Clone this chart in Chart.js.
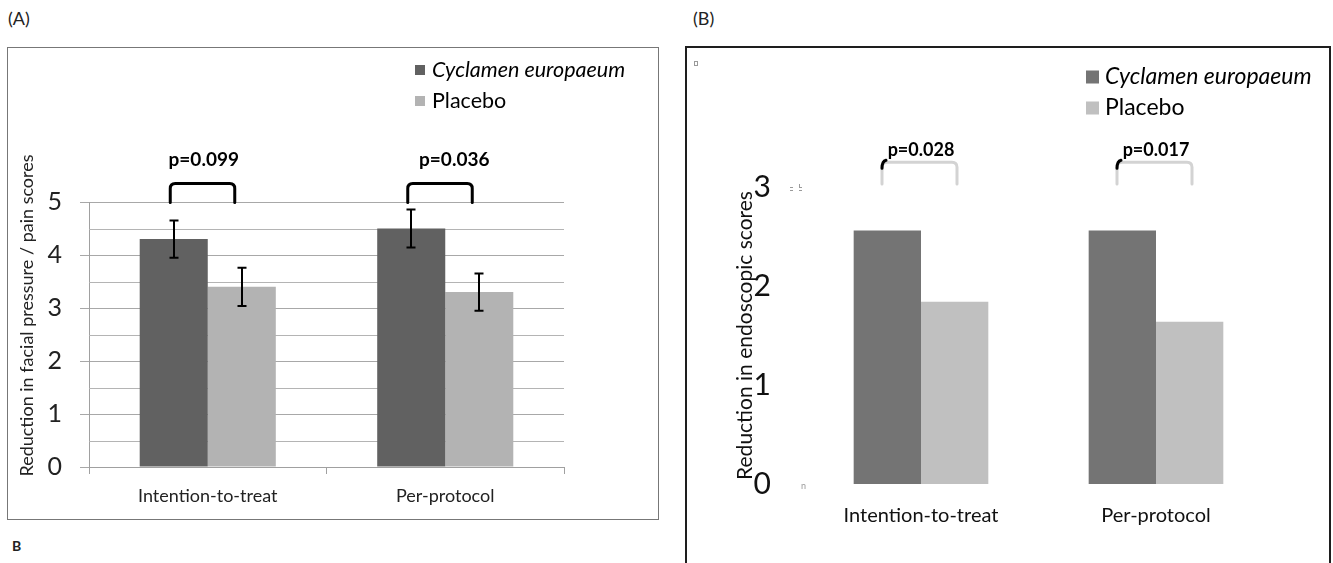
<!DOCTYPE html>
<html><head><meta charset="utf-8">
<script src="https://cdn.jsdelivr.net/npm/chart.js@4.4.1/dist/chart.umd.min.js"></script>
<style>
html,body{margin:0;padding:0;background:#fff;}
body{width:1333px;height:563px;position:relative;overflow:hidden;font-family:Lato,'Open Sans',sans-serif;color:#222;}
.lbl{position:absolute;font-size:18px;line-height:20px;}
#boxA{position:absolute;left:7px;top:47px;width:650px;height:471px;border:1px solid #777;box-sizing:content-box;}
#boxB{position:absolute;left:685px;top:46px;width:642px;height:540px;border:2px solid #1e1e1e;}
canvas{position:absolute;}
#cA{left:8px;top:48px;}
#cB{left:687px;top:48px;}
</style></head>
<body>
<div class="lbl" style="left:8px;top:8px;">(A)</div>
<div class="lbl" style="left:693px;top:8px;">(B)</div>
<div class="lbl" style="left:12px;top:536px;font-size:14px;font-weight:bold;">B</div>
<div id="boxA"></div>
<div id="boxB"></div>
<canvas id="cA" width="649" height="470"></canvas>
<canvas id="cB" width="641" height="515"></canvas>
<script>
// ---- data ----
const categories = ['Intention-to-treat', 'Per-protocol'];
const seriesNames = ['Cyclamen europaeum', 'Placebo'];
// Panel A: reduction in facial pressure / pain scores
const painCyclamen = [4.3, 4.5];
const painPlacebo = [3.4, 3.3];
const painCyclamenErr = [0.35, 0.36];
const painPlaceboErr = [0.36, 0.35];
const painPValues = ['p=0.099', 'p=0.036'];
const painTitle = 'Reduction in facial pressure / pain scores';
// Panel B: reduction in endoscopic scores
const endoCyclamen = [2.56, 2.56];
const endoPlacebo = [1.84, 1.64];
const endoPValues = ['p=0.028', 'p=0.017'];
const endoTitle = 'Reduction in endoscopic scores';

const FONT = 'Lato, "Open Sans", sans-serif';

function roundedBracket(ctx, l, r, top, bot, rad) {
  ctx.beginPath();
  ctx.moveTo(l, bot);
  ctx.lineTo(l, top + rad);
  ctx.quadraticCurveTo(l, top, l + rad, top);
  ctx.lineTo(r - rad, top);
  ctx.quadraticCurveTo(r, top, r, top + rad);
  ctx.lineTo(r, bot);
  ctx.stroke();
}

const decor = {
  id: 'decor',
  beforeDatasetsDraw(chart, args, o) {
    if (!o.halfGrid) return;
    const y = chart.scales.y, ca = chart.chartArea, ctx = chart.ctx;
    const t = y.ticks.map(k => k.value);
    ctx.save();
    ctx.strokeStyle = o.halfGrid; ctx.lineWidth = 1;
    for (let i = 0; i < t.length - 1; i++) {
      const p = Math.round(y.getPixelForValue((t[i] + t[i + 1]) / 2)) + 0.5;
      ctx.beginPath(); ctx.moveTo(ca.left, p); ctx.lineTo(ca.right, p); ctx.stroke();
    }
    ctx.restore();
  },
  afterDatasetsDraw(chart, args, o) {
    const ctx = chart.ctx, x = chart.scales.x, y = chart.scales.y;
    ctx.save();
    // error bars
    if (o.errors) {
      ctx.strokeStyle = '#000'; ctx.lineWidth = 2;
      o.errors.forEach((errs, di) => {
        const meta = chart.getDatasetMeta(di);
        const vals = chart.data.datasets[di].data;
        meta.data.forEach((bar, j) => {
          const cx = Math.round(bar.x);
          const hi = y.getPixelForValue(vals[j] + errs[j]);
          const lo = y.getPixelForValue(vals[j] - errs[j]);
          ctx.beginPath();
          ctx.moveTo(cx, hi); ctx.lineTo(cx, lo);
          ctx.moveTo(cx - 4.5, hi); ctx.lineTo(cx + 4.5, hi);
          ctx.moveTo(cx - 4.5, lo); ctx.lineTo(cx + 4.5, lo);
          ctx.stroke();
        });
      });
    }
    // brackets + p values
    const b = o.bracket;
    o.pvals.forEach((txt, j) => {
      const c = x.getPixelForValue(j);
      const l = c + b.left, r = c + b.right;
      const top = y.getPixelForValue(b.top), bot = y.getPixelForValue(b.bottom);
      ctx.strokeStyle = b.color; ctx.lineWidth = b.width; ctx.lineCap = 'round'; ctx.lineJoin = 'round';
      roundedBracket(ctx, l, r, top, bot, b.radius);
      if (b.blob) {
        ctx.strokeStyle = '#000'; ctx.lineWidth = 3;
        ctx.beginPath(); ctx.moveTo(l, top + 6); ctx.quadraticCurveTo(l, top - 1, l + 4, top - 2); ctx.stroke();
      }
      ctx.fillStyle = '#000';
      ctx.font = 'bold ' + b.fontSize + 'px ' + FONT;
      ctx.textAlign = 'center'; ctx.textBaseline = 'middle';
      ctx.fillText(txt, c + b.textOffset[j], y.getPixelForValue(b.textY));
    });
    // legend
    const L = o.legend;
    chart.data.datasets.forEach((ds, i) => {
      const cy = L.y + i * L.gap;
      ctx.fillStyle = ds.backgroundColor;
      ctx.fillRect(L.x, cy - L.box / 2, L.box, L.box);
      ctx.fillStyle = '#000';
      ctx.font = (i === 0 ? 'italic ' : '') + L.fontSize + 'px ' + FONT;
      ctx.textAlign = 'left'; ctx.textBaseline = 'middle';
      ctx.fillText(ds.label, L.x + L.box + L.textGap, cy);
    });
    // rotated axis title (panel A)
    if (o.yTitle) {
      ctx.translate(o.yTitle.x, o.yTitle.y);
      ctx.rotate(-Math.PI / 2);
      ctx.fillStyle = '#222';
      ctx.font = o.yTitle.fontSize + 'px ' + FONT;
      ctx.textAlign = 'center'; ctx.textBaseline = 'middle';
      ctx.fillText(o.yTitle.text, 0, 0);
    }
    ctx.restore();
    // small artefacts (panel B)
    if (o.artefacts) {
      ctx.save();
      ctx.strokeStyle = '#9a9a9a'; ctx.fillStyle = '#9a9a9a'; ctx.lineWidth = 1;
      ctx.strokeRect(7.5, 13.5, 3, 4);
      ctx.fillRect(103, 139, 3, 1); ctx.fillRect(103, 142, 3, 1);
      ctx.fillRect(112, 136, 1, 4); ctx.fillRect(112, 139, 3, 1); ctx.fillRect(112, 142, 3, 1);
      ctx.font = '9px ' + FONT; ctx.textBaseline = 'middle'; ctx.fillText('n', 114, 438);
      ctx.restore();
    }
  }
};

// ---- Panel A ----
new Chart(document.getElementById('cA'), {
  type: 'bar',
  data: {
    labels: categories,
    datasets: [
      { label: seriesNames[0], data: painCyclamen, backgroundColor: '#616161' },
      { label: seriesNames[1], data: painPlacebo, backgroundColor: '#b3b3b3' }
    ]
  },
  options: {
    responsive: false, animation: false, devicePixelRatio: 1,
    layout: { padding: { top: 154, right: 93, left: 0, bottom: 0 } },
    datasets: { bar: { categoryPercentage: 0.573, barPercentage: 1.0, borderWidth: 0 } },
    plugins: {
      legend: { display: false }, tooltip: { enabled: false },
      decor: {
        halfGrid: '#b4b4b4',
        errors: [painCyclamenErr, painPlaceboErr],
        pvals: painPValues,
        bracket: { left: -37.5, right: 27, top: 5.35, bottom: 4.99, radius: 5, color: '#000', width: 3,
                   textY: 5.8, textOffset: [-4, 9], fontSize: 19 },
        legend: { x: 407, y: 22, gap: 31, box: 10, textGap: 7, fontSize: 21.5 },
        yTitle: { text: painTitle, x: 19, y: 267.5, fontSize: 18 }
      }
    },
    scales: {
      x: {
        afterFit: s => { s.height = 51; },
        grid: { offset: true, drawOnChartArea: false, drawTicks: true, tickLength: 7, color: '#a0a0a0' },
        border: { display: true, color: '#a0a0a0' },
        ticks: { padding: 11, color: '#222', font: { family: FONT, size: 18 } }
      },
      y: {
        min: 0, max: 5,
        afterFit: s => { s.width = 81; },
        grid: { color: '#a8a8a8', drawTicks: true, tickLength: 9 },
        border: { display: true, color: '#a0a0a0' },
        ticks: { stepSize: 1, padding: 18, color: '#222', font: { family: FONT, size: 25 } }
      }
    }
  },
  plugins: [decor]
});

// ---- Panel B ----
new Chart(document.getElementById('cB'), {
  type: 'bar',
  data: {
    labels: categories,
    datasets: [
      { label: seriesNames[0], data: endoCyclamen, backgroundColor: '#747474' },
      { label: seriesNames[1], data: endoPlacebo, backgroundColor: '#c0c0c0' }
    ]
  },
  options: {
    responsive: false, animation: false, devicePixelRatio: 1,
    layout: { padding: { top: 139, right: 54.5, left: 0, bottom: 0 } },
    datasets: { bar: { categoryPercentage: 0.573, barPercentage: 1.0, borderWidth: 0 } },
    plugins: {
      legend: { display: false }, tooltip: { enabled: false },
      decor: {
        pvals: endoPValues,
        bracket: { left: -39, right: 36, top: 3.25, bottom: 3.03, radius: 5, color: '#d3d3d3', width: 3,
                   textY: 3.37, textOffset: [0, 0], fontSize: 18, blob: true },
        legend: { x: 399, y: 29, gap: 31, box: 13, textGap: 6, fontSize: 23 },
        artefacts: true
      }
    },
    scales: {
      x: {
        afterFit: s => { s.height = 79; },
        grid: { display: false, drawTicks: false },
        border: { display: false },
        ticks: { padding: 20, color: '#111', font: { family: FONT, size: 20 } }
      },
      y: {
        min: 0, max: 3,
        afterFit: s => { s.width = 116.5; },
        grid: { display: false, drawTicks: false },
        border: { display: false },
        ticks: { stepSize: 1, padding: 32.5, color: '#111', font: { family: FONT, size: 30 } },
        title: { display: true, text: endoTitle, color: '#111', font: { family: FONT, size: 21 },
                 padding: { top: 45.4, bottom: 0 } }
      }
    }
  },
  plugins: [decor]
});
</script>
</body></html>
